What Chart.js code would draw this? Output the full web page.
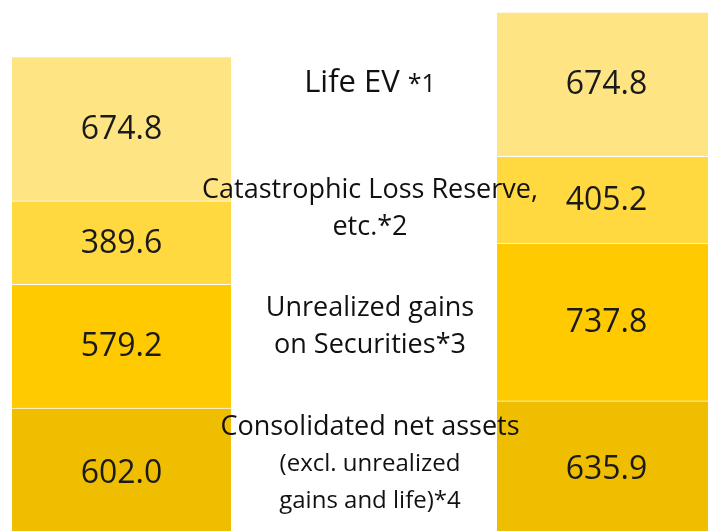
<!DOCTYPE html>
<html>
<head>
<meta charset="utf-8">
<script src="https://cdn.jsdelivr.net/npm/chart.js@4/dist/chart.umd.min.js"></script>
<style>
  html, body { margin: 0; padding: 0; background: #fff; }
  canvas { display: block; }
</style>
</head>
<body>
<canvas id="chart" width="708" height="531"></canvas>
<script>
// two columns: left and right bar
const columns = [0, 1];

// stacked from bottom to top
const segmentNames = ['Consolidated net assets', 'Unrealized gains', 'Catastrophic Loss Reserve', 'Life EV'];
const netAssets = [602.0, 635.9];
const unrealizedGains = [579.2, 737.8];
const catastrophicReserve = [389.6, 405.2];
const lifeEV = [674.8, 674.8];

const segmentColors = ['#F0BE00', '#FFCB00', '#FFD93F', '#FFE483'];

// text written between the bars, one block per segment (bottom to top)
const middleLabels = [
    ['Consolidated net assets', '(excl. unrealized', 'gains and life)*4'],
    ['Unrealized gains', 'on Securities*3'],
    ['Catastrophic Loss Reserve,', 'etc.*2'],
    ['Life EV *1']
];

const FONT = '"Open Sans", "Noto Sans", sans-serif';

function toPoints(values) {
    return values.map((v, i) => ({ x: columns[i], y: v }));
}

const seriesValues = [netAssets, unrealizedGains, catastrophicReserve, lifeEV];

const datasets = seriesValues.map((vals, i) => ({
    label: segmentNames[i],
    data: toPoints(vals),
    backgroundColor: segmentColors[i],
    borderColor: '#ffffff',
    borderWidth: { top: 1, right: 0, bottom: 0, left: 0 },
    borderSkipped: false,
    barThickness: 219
}));

// value inside each segment
const valueLabels = {
    id: 'valueLabels',
    afterDatasetsDraw(chart) {
        const ctx = chart.ctx;
        ctx.save();
        ctx.font = '32px ' + FONT;
        ctx.fillStyle = '#1a1a1a';
        ctx.textAlign = 'center';
        ctx.textBaseline = 'middle';
        chart.data.datasets.forEach((ds, di) => {
            const meta = chart.getDatasetMeta(di);
            meta.data.forEach((bar, i) => {
                const cy = (bar.y + bar.base) / 2;
                ctx.fillText(ds.data[i].y.toFixed(1), bar.x, cy + 1);
            });
        });
        ctx.restore();
    }
};

// segment names between the two bars, lined up with the right bar
const middleText = {
    id: 'middleText',
    afterDraw(chart, args, opts) {
        const ctx = chart.ctx;
        const left = chart.getDatasetMeta(0).data[0];
        const right = chart.getDatasetMeta(0).data[1];
        const cx = (left.x + left.width / 2 + right.x - right.width / 2) / 2 + 6;
        ctx.save();
        ctx.fillStyle = '#111';
        ctx.textAlign = 'center';
        ctx.textBaseline = 'middle';
        middleLabels.forEach((lines, si) => {
            const bar = chart.getDatasetMeta(si).data[1];
            const center = (bar.y + bar.base) / 2 + opts.shift[si];
            const lh = 37;
            const top = center - (lines.length - 1) * lh / 2;
            lines.forEach((line, li) => {
                const y = top + li * lh;
                if (si === 3) {
                    // "Life EV" big, footnote mark smaller
                    const main = 'Life EV ';
                    const mark = line.slice(main.length);
                    ctx.font = '31px ' + FONT;
                    const w1 = ctx.measureText(main).width;
                    ctx.font = '25px ' + FONT;
                    const w2 = ctx.measureText(mark).width;
                    const x0 = cx - (w1 + w2) / 2;
                    ctx.textAlign = 'left';
                    ctx.font = '31px ' + FONT;
                    ctx.fillText(main, x0, y);
                    ctx.font = '25px ' + FONT;
                    ctx.fillText(mark, x0 + w1, y + 2);
                    ctx.textAlign = 'center';
                } else {
                    ctx.font = (si === 0 && li > 0 ? '24px ' : '27px ') + FONT;
                    ctx.fillText(line, cx, y);
                }
            });
        });
        ctx.restore();
    }
};

new Chart(document.getElementById('chart'), {
    type: 'bar',
    data: { datasets },
    options: {
        responsive: false,
        animation: false,
        devicePixelRatio: 1,
        layout: { padding: 0 },
        scales: {
            x: { type: 'linear', min: -0.2505, max: 1.2093, offset: false, bounds: 'ticks', stacked: true, display: false },
            y: { min: 28, max: 2510, stacked: true, display: false }
        },
        plugins: {
            legend: { display: false },
            tooltip: { enabled: false },
            middleText: { shift: [-5, 5, 9, -1] }
        }
    },
    plugins: [valueLabels, middleText]
});
</script>
</body>
</html>
